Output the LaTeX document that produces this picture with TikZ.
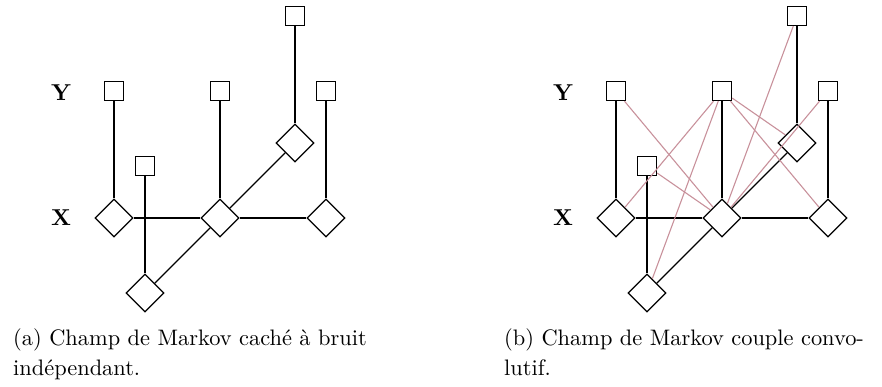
\documentclass[tikz,border=0pt]{standalone}
\usepackage{fontspec}
\setmainfont{lmroman10-regular}[Extension=.otf, BoldFont=lmroman10-bold, ItalicFont=lmroman10-italic]
\usetikzlibrary{shapes.geometric}
\definecolor{pinkedge}{RGB}{200,145,155}
\newcommand{\capfont}{\fontsize{22.4pt}{27pt}\selectfont}
\newcommand{\labfont}{\fontsize{23pt}{27pt}\selectfont\bfseries}
\tikzset{
  sq/.style={draw, rectangle, minimum size=19pt, inner sep=0pt, line width=1.3pt},
  dia/.style={draw, diamond, minimum size=38pt, inner sep=0pt, line width=1.3pt},
  blk/.style={line width=1.3pt, black},
  pnk/.style={line width=1.1pt, pinkedge},
  lab/.style={inner sep=0pt},
  captext/.style={inner sep=0pt, anchor=base west}
}
\begin{document}
\begin{tikzpicture}[x=1pt,y=-1pt]
\useasboundingbox (0,0) rectangle (882,387);
% ---------- left ----------
\node[lab] (ly) at (61,93) {\labfont Y};
\node[lab] (lx) at (61,218) {\labfont X};
\node[sq] (ay1) at (114,91) {};
\node[sq] (ay2) at (220,91) {};
\node[sq] (ay3) at (326,91) {};
\node[sq] (ayt) at (295,16) {};
\node[sq] (ayb) at (145,166) {};
\node[dia] (ax1) at (114,218) {};
\node[dia] (ax2) at (220,218) {};
\node[dia] (ax3) at (326,218) {};
\node[dia] (axt) at (295,143) {};
\node[dia] (axb) at (145,293) {};
\draw[blk] (ay1) -- (ax1);
\draw[blk] (ay2) -- (ax2);
\draw[blk] (ay3) -- (ax3);
\draw[blk] (ayt) -- (axt);
\draw[blk] (ayb) -- (axb);
\draw[blk] (ax1) -- (ax2);
\draw[blk] (ax2) -- (ax3);
\draw[blk] (axb) -- (ax2);
\draw[blk] (ax2) -- (axt);
% ---------- right ----------
\node[lab] (ry) at (563,93) {\labfont Y};
\node[lab] (rx) at (563,218) {\labfont X};
\node[sq] (by1) at (616,91) {};
\node[sq] (by2) at (722,91) {};
\node[sq] (by3) at (828,91) {};
\node[sq] (byt) at (797,16) {};
\node[sq] (byb) at (647,166) {};
\node[dia] (bx1) at (616,218) {};
\node[dia] (bx2) at (722,218) {};
\node[dia] (bx3) at (828,218) {};
\node[dia] (bxt) at (797,143) {};
\node[dia] (bxb) at (647,293) {};
\draw[blk] (by1) -- (bx1);
\draw[blk] (by2) -- (bx2);
\draw[blk] (by3) -- (bx3);
\draw[blk] (byt) -- (bxt);
\draw[blk] (byb) -- (bxb);
\draw[blk] (bx1) -- (bx2);
\draw[blk] (bx2) -- (bx3);
\draw[blk] (bxb) -- (bx2);
\draw[blk] (bx2) -- (bxt);
\draw[pnk] (by1) -- (bx2);
\draw[pnk] (by3) -- (bx2);
\draw[pnk] (byt) -- (bx2);
\draw[pnk] (byb) -- (bx2);
\draw[pnk] (by2) -- (bx1);
\draw[pnk] (by2) -- (bx3);
\draw[pnk] (by2) -- (bxt);
\draw[pnk] (by2) -- (bxb);
% ---------- captions ----------
\node[captext] (ca1) at (13,345) {\capfont (a) Champ de Markov caché à bruit};
\node[captext] (ca2) at (13,375) {\capfont indépendant.};
\node[captext] (cb1) at (504,345) {\capfont (b) Champ de Markov couple convo-};
\node[captext] (cb2) at (504,375) {\capfont lutif.};
\end{tikzpicture}
\end{document}
